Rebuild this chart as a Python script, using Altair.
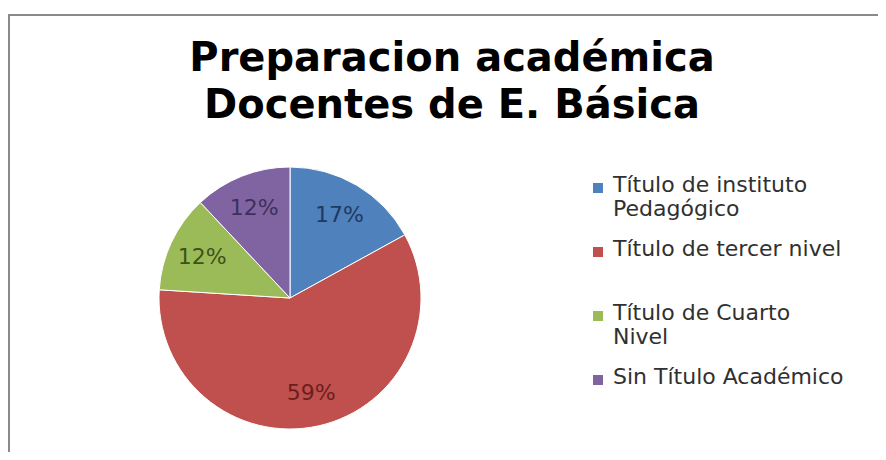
import altair as alt
import pandas as pd

# ---- data ----
categories = ["Título de instituto Pedagógico", "Título de tercer nivel",
              "Título de Cuarto Nivel", "Sin Título Académico"]
legend_text = ["Título de instituto|Pedagógico", "Título de tercer nivel",
               "Título de Cuarto|Nivel", "Sin Título Académico"]
values = [17, 59, 12, 12]
slice_colors = ["#4F81BD", "#C0504D", "#9BBB59", "#8064A2"]
label_colors = ["#1F3A60", "#6B1F1D", "#3F5219", "#3F2F5B"]
title_lines = ["Preparacion académica", "Docentes de E. Básica"]

df = pd.DataFrame({
    "cat": categories,
    "legend": legend_text,
    "value": values,
    "idx": list(range(len(categories))),
})
df["label"] = [f"{v}%" for v in values]

W, H = 870, 444
CX, CY, R = 282, 290, 131

base = alt.Chart(df).encode(
    theta=alt.Theta("value:Q", stack=True),
    order=alt.Order("idx:Q"),
)

arcs = base.mark_arc(outerRadius=R, stroke="white", strokeWidth=1).encode(
    x=alt.value(CX), y=alt.value(CY),
    color=alt.Color("cat:N", scale=alt.Scale(domain=categories, range=slice_colors), legend=None),
)

pct = base.mark_text(radius=R * 0.74, fontSize=22, font="DejaVu Sans").encode(
    x=alt.value(CX), y=alt.value(CY),
    text="label:N",
    color=alt.Color("cat:N", scale=alt.Scale(domain=categories, range=label_colors), legend=None),
)

leg_y = alt.Y("cat:N", scale=alt.Scale(type="point", domain=categories, range=[180, 372], padding=0), axis=None)

leg_sq = alt.Chart(df).mark_square(size=100, opacity=1).encode(
    x=alt.value(590), y=leg_y,
    color=alt.Color("cat:N", scale=alt.Scale(domain=categories, range=slice_colors), legend=None),
)

leg_txt = alt.Chart(df).mark_text(
    align="left", baseline="top", dy=-13, fontSize=22, font="DejaVu Sans",
    lineBreak="|", lineHeight=24, color="#303030",
).encode(x=alt.value(605), y=leg_y, text="legend:N")

title = alt.Chart(pd.DataFrame({"t": ["|".join(title_lines)]})).mark_text(
    align="center", baseline="top", fontSize=40, fontWeight="bold", font="DejaVu Sans",
    lineBreak="|", lineHeight=47, color="#000000",
).encode(x=alt.value(444), y=alt.value(31), text="t:N")

one = pd.DataFrame({"a": [0]})
border_top = alt.Chart(one).mark_rule(color="#8A8A8A", strokeWidth=2).encode(
    x=alt.value(0), x2=alt.value(W), y=alt.value(7))
border_left = alt.Chart(one).mark_rule(color="#8A8A8A", strokeWidth=2).encode(
    x=alt.value(1), y=alt.value(7), y2=alt.value(H))

chart = alt.layer(
    border_top, border_left, title, arcs, pct, leg_sq, leg_txt
).resolve_scale(color="independent", y="independent").properties(
    width=W, height=H, padding=0, autosize=alt.AutoSizeParams(type="none"),
    background="white",
).configure_view(strokeWidth=0)

chart.save("out.html", embed_options={"renderer": "svg", "actions": False})
